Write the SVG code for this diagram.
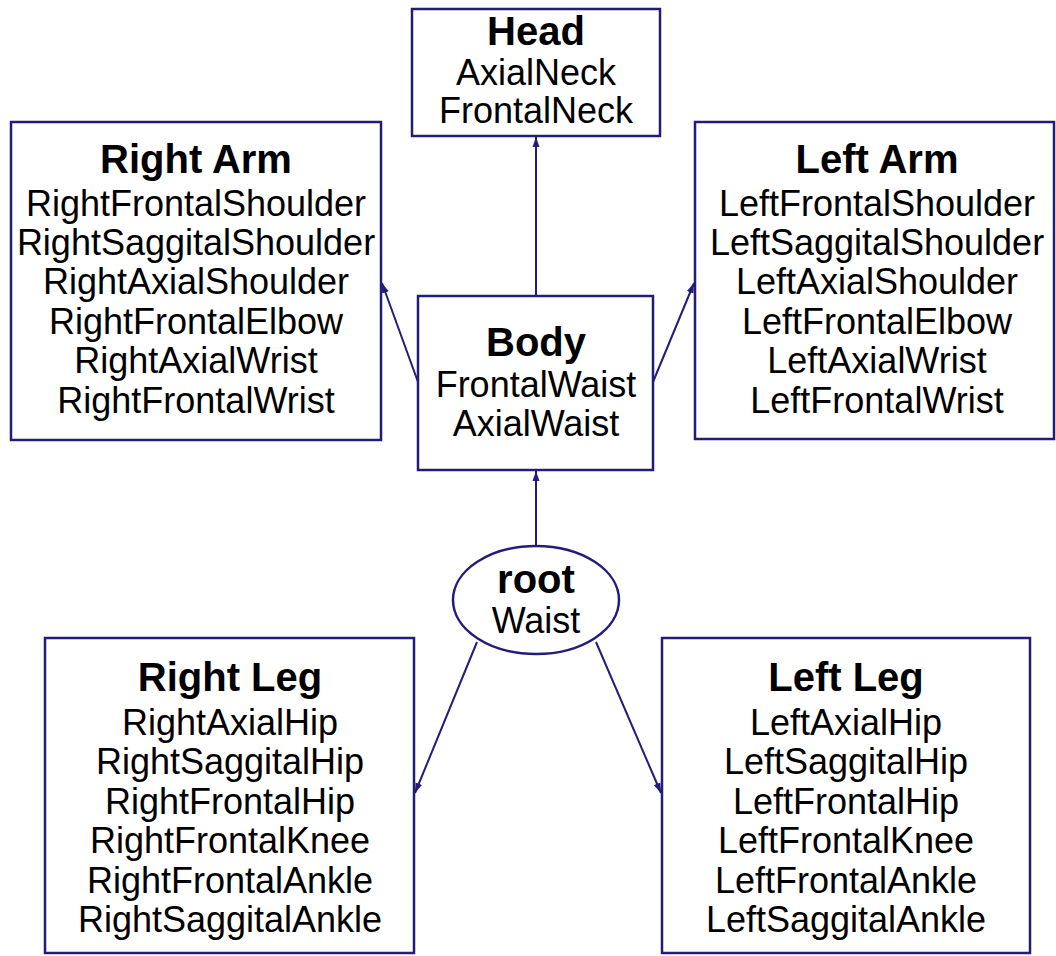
<svg xmlns="http://www.w3.org/2000/svg" width="1056" height="956" viewBox="0 0 1056 956">
<style>
.box{fill:#fff;stroke:#231c78;stroke-width:2.5}
.t{font-family:"Liberation Sans",Arial,sans-serif;font-size:36px;fill:#000;text-anchor:middle}
.b{font-weight:bold;font-size:40px}
.c{stroke:#231c78;stroke-width:2;fill:none}
</style>
<defs>
<marker id="ah" viewBox="0 0 10 10" refX="10" refY="5" markerWidth="10" markerHeight="10" markerUnits="userSpaceOnUse" orient="auto">
<path d="M0,1.5 L10,5 L0,8.5 Z" fill="#231c78"/>
</marker>
</defs>
<rect width="1056" height="956" fill="#fff"/>
<g id="connectors">
<line class="c" x1="536" y1="296" x2="536" y2="137" marker-end="url(#ah)"/>
<line class="c" x1="536" y1="546" x2="536" y2="471" marker-end="url(#ah)"/>
<line class="c" x1="418" y1="382" x2="382" y2="283" marker-end="url(#ah)"/>
<line class="c" x1="653" y1="382" x2="694" y2="283" marker-end="url(#ah)"/>
<line class="c" x1="477" y1="642" x2="415" y2="793" marker-end="url(#ah)"/>
<line class="c" x1="596" y1="642" x2="661" y2="793" marker-end="url(#ah)"/>
</g>
<g id="head">
<rect class="box" x="412" y="9" width="248" height="127"/>
<text class="t b" x="536" y="45">Head</text>
<text class="t" x="536" y="85">AxialNeck</text>
<text class="t" x="536" y="123">FrontalNeck</text>
</g>
<g id="right-arm">
<rect class="box" x="11" y="122" width="370" height="318"/>
<text class="t b" x="196" y="173">Right Arm</text>
<text class="t" x="196" y="216">RightFrontalShoulder</text>
<text class="t" x="196" y="255">RightSaggitalShoulder</text>
<text class="t" x="196" y="294">RightAxialShoulder</text>
<text class="t" x="196" y="334">RightFrontalElbow</text>
<text class="t" x="196" y="373">RightAxialWrist</text>
<text class="t" x="196" y="413">RightFrontalWrist</text>
</g>
<g id="left-arm">
<rect class="box" x="695" y="122" width="359" height="317"/>
<text class="t b" x="877" y="173">Left Arm</text>
<text class="t" x="877" y="216">LeftFrontalShoulder</text>
<text class="t" x="877" y="255">LeftSaggitalShoulder</text>
<text class="t" x="877" y="294">LeftAxialShoulder</text>
<text class="t" x="877" y="334">LeftFrontalElbow</text>
<text class="t" x="877" y="373">LeftAxialWrist</text>
<text class="t" x="877" y="413">LeftFrontalWrist</text>
</g>
<g id="body">
<rect class="box" x="418" y="296" width="235" height="174"/>
<text class="t b" x="536" y="356">Body</text>
<text class="t" x="536" y="397">FrontalWaist</text>
<text class="t" x="536" y="436">AxialWaist</text>
</g>
<g id="root">
<ellipse class="box" cx="536" cy="600" rx="83" ry="54"/>
<text class="t b" x="536" y="593">root</text>
<text class="t" x="536" y="633">Waist</text>
</g>
<g id="right-leg">
<rect class="box" x="45" y="638" width="369" height="315"/>
<text class="t b" x="230" y="691">Right Leg</text>
<text class="t" x="230" y="735">RightAxialHip</text>
<text class="t" x="230" y="774">RightSaggitalHip</text>
<text class="t" x="230" y="814">RightFrontalHip</text>
<text class="t" x="230" y="853">RightFrontalKnee</text>
<text class="t" x="230" y="893">RightFrontalAnkle</text>
<text class="t" x="230" y="932">RightSaggitalAnkle</text>
</g>
<g id="left-leg">
<rect class="box" x="662" y="638" width="368" height="315"/>
<text class="t b" x="846" y="691">Left Leg</text>
<text class="t" x="846" y="735">LeftAxialHip</text>
<text class="t" x="846" y="774">LeftSaggitalHip</text>
<text class="t" x="846" y="814">LeftFrontalHip</text>
<text class="t" x="846" y="853">LeftFrontalKnee</text>
<text class="t" x="846" y="893">LeftFrontalAnkle</text>
<text class="t" x="846" y="932">LeftSaggitalAnkle</text>
</g>
</svg>
